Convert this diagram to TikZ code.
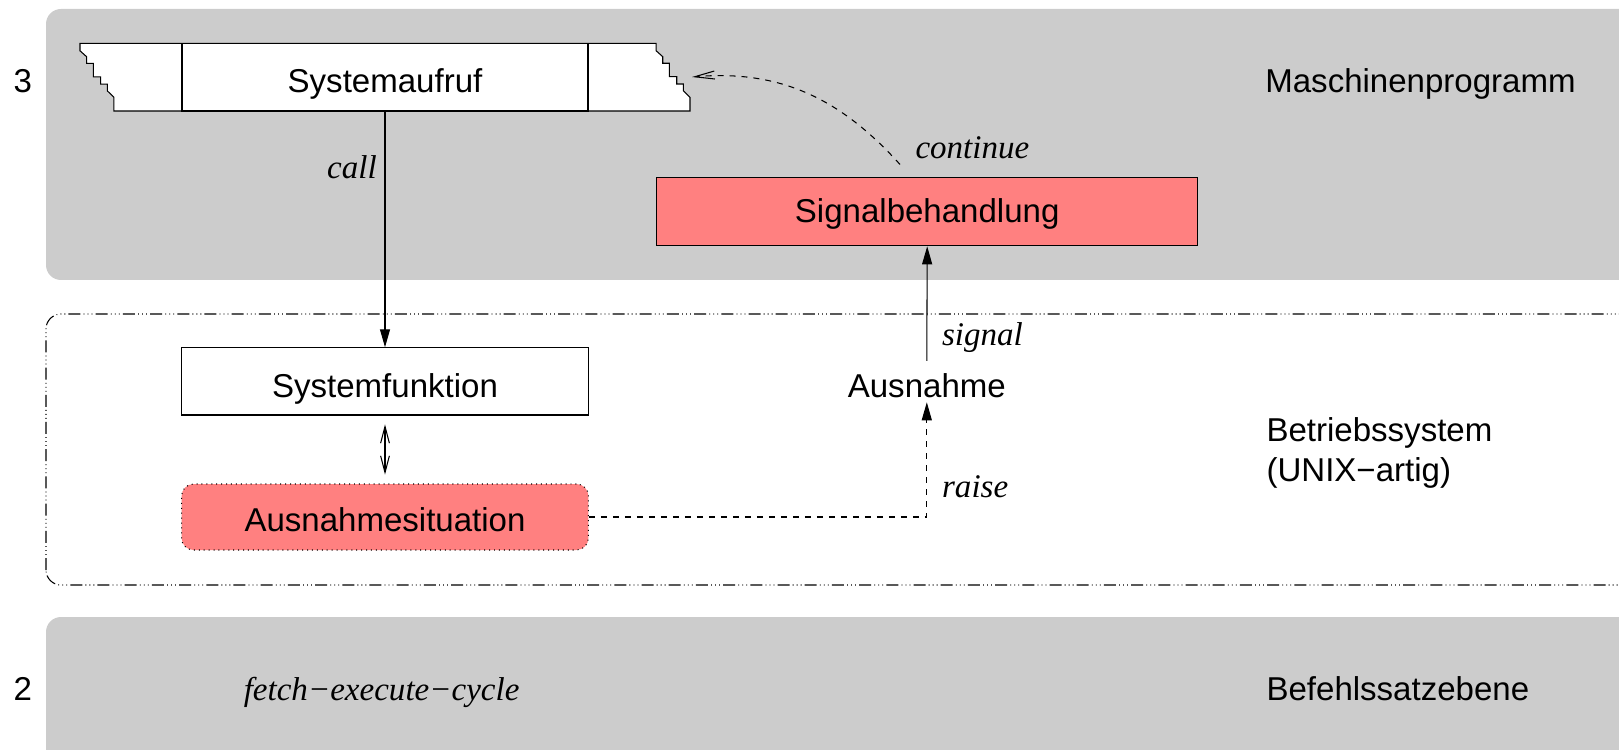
\documentclass[tikz,border=0pt]{standalone}
\usepackage{fontspec}
\setmainfont{Liberation Serif}
\setsansfont{Liberation Sans}
\usetikzlibrary{arrows.meta}
\definecolor{bandgray}{RGB}{204,204,204}
\definecolor{signalred}{RGB}{255,128,128}

\begin{document}
\begin{tikzpicture}[
    line width=.75pt,
    box/.style={draw,minimum width=10.17cm,minimum height=1.68cm,inner sep=0pt,text depth=.2cm,
                font=\sffamily\fontsize{23.5}{28.5}\selectfont},
    txt/.style={inner sep=0pt,font=\sffamily\fontsize{23.5}{28.5}\selectfont},
    lbl/.style={inner sep=0pt,font=\itshape\fontsize{23.5}{28.5}\selectfont},
    arr/.style={-{Triangle[length=.45cm,width=.25cm]}},
    barb/.style={{Straight Barb[length=.42cm,width=.22cm]}-{Straight Barb[length=.42cm,width=.22cm]}},
    dsh/.style={dash pattern=on .15cm off .15cm},
    ]

\clip (0,0) rectangle (40.475,18.725);

%-------------------------------------------- Levels
\fill[bandgray,rounded corners=.375cm] (1.15,11.725) rectangle (41.5,18.5);   % Level 3
\draw[rounded corners=.375cm,
      dash pattern=on .3cm off .08cm on .02cm off .08cm on .02cm off .08cm on .02cm off .08cm]
     (1.15,4.1) rectangle (41.5,10.875);                                      % Operating system
\fill[bandgray,rounded corners=.375cm] (1.15,-1) rectangle (41.5,3.3);       % Level 2

% Level names
\node[txt,anchor=base] (lvlthree) at (.57,16.42) {3};
\node[txt,anchor=base] (lvltwo) at (.57,1.21) {2};
\node[txt,anchor=base west] (maschprog) at (31.62,16.42) {Maschinenprogramm};
\node[txt,anchor=base west,align=left] (betrsys) at (31.65,6.68) {Betriebssystem\\(UNIX−artig)};
\node[txt,anchor=base west] (befsatz) at (31.65,1.21) {Befehlssatzebene};

%-------------------------------------------- Machine program
\path[fill=white,draw] (2,17.64) -- ++(0,-.185) -- ++(.167,-.15) -- ++(0,-.165) -- ++(.165,0)
    -- ++(0,-.335) -- ++(.185,0) -- ++(0,-.183) -- ++(.165,0) -- ++(0,-.167) -- ++(.167,-.165)
    -- (2.849,15.95) -- (17.25,15.95) -- ++(0,.343) -- ++(-.167,.165) -- ++(0,.167) -- ++(-.165,0)
    -- ++(0,.183) -- ++(-.185,0) -- ++(0,.335) -- ++(-.165,0) -- ++(0,.165) -- ++(-.167,.15)
    -- (16.401,17.64) -- cycle;                                                % Torn program text
\node[box,minimum width=10.15cm,minimum height=1.69cm,text height=.95cm] (sysaufruf) at (9.625,16.795) {Systemaufruf};

\node[box,fill=signalred,minimum width=13.52cm,minimum height=1.7cm,text height=.73cm] (sigbeh) at (23.18,13.43) {Signalbehandlung};

%-------------------------------------------- Operating system
\node[box,text height=1cm] (sysfunk) at (9.625,9.19) {Systemfunktion};
\node[box,fill=signalred,rounded corners=.3cm,dash pattern=on .7pt off 2.8pt,
      minimum height=1.65cm,text height=.9cm] (ausnsit) at (9.625,5.8) {Ausnahmesituation};
\node[txt,anchor=base] (ausnahme) at (23.17,8.79) {Ausnahme};

%-------------------------------------------- Level 2
\node[lbl,anchor=base] (fetchexec) at (9.54,1.21) {fetch−execute−cycle};

%-------------------------------------------- Arrows
\draw[arr] (sysaufruf.south) -- (sysfunk.north);                         % call
\node[lbl,anchor=base east] (calllbl) at (9.43,14.25) {call};

\draw[barb,shorten >=.22cm,shorten <=.22cm] (sysfunk.south) -- (ausnsit.north);

\draw[arr,dsh] (ausnsit.east) -| ([yshift=-.1cm]ausnahme.south);        % raise
\node[lbl,anchor=base west] (raiselbl) at (23.54,6.3) {raise};

\draw[arr] ([yshift=.3cm]ausnahme.north) -- (sigbeh.south);             % signal
\node[lbl,anchor=base west] (signallbl) at (23.54,10.075) {signal};

\coordinate (contend) at (17.3,16.8);
\draw[dsh,-{Straight Barb[length=.5cm,width=.2cm]}]
     ([xshift=-.68cm,yshift=.32cm]sigbeh.north) to[out=132,in=5] (contend); % continue
\node[lbl,anchor=base west] (contlbl) at (22.875,14.77) {continue};

\end{tikzpicture}
\end{document}
